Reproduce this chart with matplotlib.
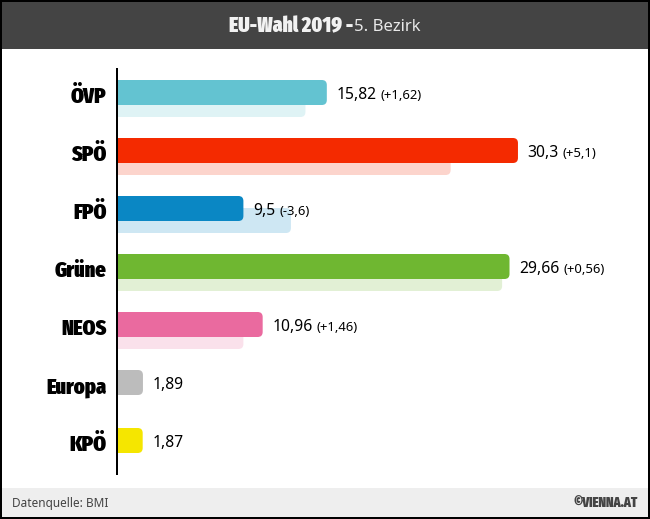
import matplotlib
matplotlib.use('Agg')
import matplotlib.pyplot as plt
from matplotlib.patches import FancyBboxPatch, Rectangle
from matplotlib.transforms import ScaledTranslation

# Data
parties = ['ÖVP', 'SPÖ', 'FPÖ', 'Grüne', 'NEOS', 'Europa', 'KPÖ']
values = [15.82, 30.3, 9.5, 29.66, 10.96, 1.89, 1.87]
value_labels = ['15,82', '30,3', '9,5', '29,66', '10,96', '1,89', '1,87']
previous = [14.2, 25.2, 13.1, 29.1, 9.5, None, None]
diff_labels = ['(+1,62)', '(+5,1)', '(-3,6)', '(+0,56)', '(+1,46)', '', '']
colors = ['#63c3d1', '#f42a00', '#0a87c4', '#6fb731', '#ea6a9f', '#bcbcbc', '#f5e600']

W, H = 650, 519
narrow = ['Fira Sans Extra Condensed', 'Anton', 'Lato', 'DejaVu Sans']

fig = plt.figure(figsize=(W / 100, H / 100), dpi=100, facecolor='black')

# Frame, header and footer in pixel coordinates
bg = fig.add_axes([0, 0, 1, 1])
bg.set_xlim(0, W)
bg.set_ylim(H, 0)
bg.axis('off')
bg.add_patch(Rectangle((2, 2), 646, 515, color='white', lw=0))
bg.add_patch(Rectangle((2, 2), 646, 47, color='#444444', lw=0))
bg.add_patch(Rectangle((2, 488), 646, 29, color='#eeeeee', lw=0))

bg.text(229, 26, 'EU-Wahl 2019 -', color='#f2f2f2', fontsize=15.4, fontweight='black',
        family=narrow, va='center', ha='left')
bg.text(354, 27, '5. Bezirk', color='#e8e8e8', fontsize=12, family='Noto Sans', va='center', ha='left')
bg.text(12, 504, 'Datenquelle: BMI', color='#444444', fontsize=8.5, family='Noto Sans', va='center', ha='left')
bg.text(638, 503, '©VIENNA.AT', color='#444444', fontsize=10, fontweight='black', family=narrow,
        va='center', ha='right')

# Chart axes: 13.2 px per unit, 58 px per row
left, right, top, bottom = 118, 648, 69, 474
ax = fig.add_axes([left / W, 1 - bottom / H, (right - left) / W, (bottom - top) / H])
ax.patch.set_alpha(0)
for s in ['top', 'right', 'bottom']:
    ax.spines[s].set_visible(False)
ax.spines['left'].set_linewidth(1.44)
ax.spines['left'].set_color('black')
# set_position resets the ticks, so it comes before the tick setup
ax.spines['left'].set_position(('outward', 0.72))

ax.set_xlim(0, (right - left) / 13.2)
ax.set_ylim((bottom - 92.5) / 58, (top - 92.5) / 58)
ax.set_xticks([])
ax.set_yticks(range(len(parties)))
ax.set_yticklabels(parties, family=narrow, fontsize=16, fontweight='black', color='black')
ax.tick_params(axis='y', length=0, pad=7.5)
# labels sit a little below the bar centre
label_shift = ScaledTranslation(0, -2.5 / 100, fig.dpi_scale_trans)
for lab in ax.get_yticklabels():
    lab.set_transform(lab.get_transform() + label_shift)

bar_h = 25 / 58
shift = 12 / 58
radius_x = 5 / 13.2
aspect = 13.2 / 58


def rounded_bar(x, y, h, color, alpha, z):
    # starts left of zero so only the right corners show rounded
    box = FancyBboxPatch((-1, y - h / 2), x + 1, h,
                         boxstyle=f'round,pad=0,rounding_size={radius_x}',
                         mutation_aspect=aspect, fc=color, ec='none', alpha=alpha, zorder=z)
    ax.add_patch(box)


for i, party in enumerate(parties):
    if previous[i] is not None:
        rounded_bar(previous[i], i + shift, bar_h, colors[i], 0.2, 2)
    rounded_bar(values[i], i, bar_h, colors[i], 1, 3)
    val = ax.annotate(value_labels[i], xy=(values[i], i), xytext=(9.5, -2.5), textcoords='offset pixels',
                      family='Noto Sans', fontsize=11.3, color='black', va='center', ha='left', zorder=4)
    if diff_labels[i]:
        ax.annotate(diff_labels[i], xy=(1, 0.5), xycoords=val, xytext=(4, -0.5), textcoords='offset pixels',
                    family='Noto Sans', fontsize=9.4, color='black', va='center', ha='left', zorder=4)

plt.savefig('out.png', dpi=100, facecolor=fig.get_facecolor())
